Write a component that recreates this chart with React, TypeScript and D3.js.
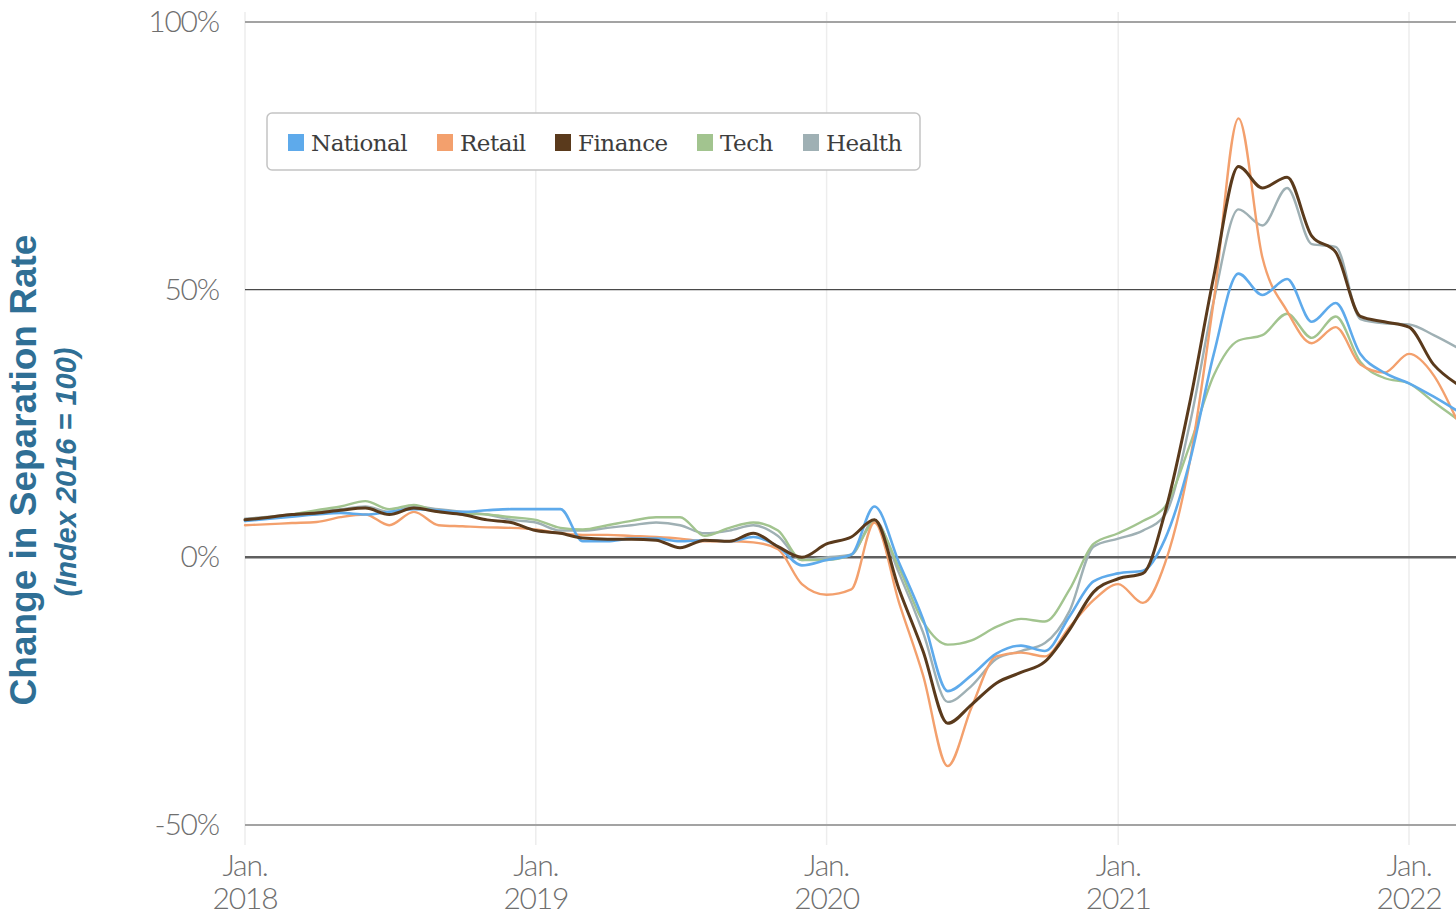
import React from "react";
import * as d3 from "d3";

// Monthly observations, Jan 2018 – Mar 2022 (percent change vs 2016 average)
const startMonth = new Date(2018, 0, 1);
const monthCount = 51;

const national = [
  6.8, 7.2, 7.6, 8.0, 8.3, 8.0, 8.5, 9.0, 8.8, 8.5, 8.8, 9.0,
  9.0, 9.0, 3.0, 3.0, 3.5, 3.5, 3.0, 3.2, 3.0, 3.8, 2.0, -1.5,
  -0.5, 0.5, 9.5, -1.0, -11.5, -25.0, -22.0, -18.0, -16.5, -17.5, -11.0, -4.5,
  -3.0, -2.5, 3.5, 18.0, 38.0, 53.0, 49.0, 52.0, 44.0, 47.5, 38.0, 34.5,
  32.5, 30.0, 27.5,
];
const retail = [
  6.0, 6.2, 6.4, 6.6, 7.5, 8.0, 6.0, 8.5, 6.0, 5.8, 5.6, 5.5,
  5.2, 4.5, 4.2, 4.2, 4.0, 3.8, 3.5, 3.0, 3.0, 2.8, 1.5, -5.0,
  -7.0, -6.0, 6.5, -8.5, -22.0, -39.0, -28.0, -18.5, -17.8, -18.5, -13.0, -8.0,
  -5.0, -8.5, -1.0, 18.0, 48.0, 82.0, 56.0, 46.0, 40.0, 43.0, 36.0, 34.5,
  38.0, 34.0, 26.0,
];
const finance = [
  7.0, 7.5, 8.0, 8.3, 8.8, 9.2, 8.0, 9.2, 8.5, 8.0, 7.0, 6.5,
  5.0, 4.5, 3.6, 3.4, 3.4, 3.2, 1.8, 3.2, 3.0, 4.5, 2.0, 0.0,
  2.5, 3.8, 7.0, -6.0, -17.5, -31.0, -27.5, -23.5, -21.5, -19.5, -13.5, -6.5,
  -4.0, -3.0, 8.5, 29.0, 52.5, 73.0, 69.0, 71.0, 60.0, 57.0, 45.0, 44.0,
  43.0, 36.0, 32.5,
];
const tech = [
  7.0, 7.5, 8.0, 8.8, 9.5, 10.5, 9.0, 9.8, 8.5, 8.2, 8.0, 7.5,
  7.0, 5.5, 5.2, 6.0, 6.8, 7.5, 7.5, 4.0, 5.5, 6.5, 5.0, -0.5,
  -0.5, 0.5, 6.5, -2.0, -12.0, -16.3, -15.5, -13.0, -11.5, -12.0, -6.0, 2.5,
  4.5, 6.8, 9.5, 21.0, 34.0, 40.5, 41.5, 45.5, 41.0, 45.0, 36.5, 33.5,
  32.5, 29.0, 26.0,
];
const health = [
  7.2, 7.6, 8.0, 8.5, 9.0, 9.5, 8.5, 9.5, 9.0, 8.5, 8.0, 7.0,
  6.5, 5.0, 5.0, 5.5, 6.0, 6.5, 6.0, 4.5, 5.0, 6.0, 4.0, -0.5,
  0.0, 0.5, 7.0, -3.0, -14.0, -27.0, -24.0, -19.0, -17.5, -16.0, -10.0, 2.0,
  3.5, 5.0, 8.0, 25.0, 48.0, 65.0, 62.0, 69.0, 58.5, 58.0, 44.5, 43.7,
  43.5, 41.5, 39.3,
];

const seriesNames = ["National", "Retail", "Finance", "Tech", "Health"];
const seriesColors = ["#5eaaeb", "#f3a06d", "#5a3a1c", "#a2c48f", "#9fb0b4"];
const seriesValues = [national, retail, finance, tech, health];

const yTicks = [100, 50, 0, -50];
const xTickYears = [2018, 2019, 2020, 2021, 2022];

const W = 1456;
const H = 916;

export default function App() {
  const months = d3.range(monthCount).map((i) => d3.timeMonth.offset(startMonth, i));

  const x = d3
    .scaleTime()
    .domain([new Date(2018, 0, 1), new Date(2022, 0, 1)])
    .range([245, 1409]);
  const y = d3.scaleLinear().domain([-50, 100]).range([825, 22]);

  const line = d3
    .line<number>()
    .x((_, i) => x(months[i]))
    .y((v) => y(v))
    .curve(d3.curveMonotoneX);

  // paint order: lighter series underneath, finance on top
  const drawOrder = [4, 3, 1, 0, 2];
  const widths = [2.6, 2.4, 3, 2.4, 2.4];

  const legendX = [288, 437, 555, 697, 803];

  const gridColor = (t: number) =>
    t === 0 ? "#5f5f5f" : t === 50 ? "#4a4a4a" : "#a3a3a3";
  const gridWidth = (t: number) => (t === 0 ? 2.5 : t === 50 ? 1.2 : 2);

  const tickFont = {
    fontFamily: "Lato, 'Open Sans', sans-serif",
    fontWeight: 300,
    fontSize: 30,
    letterSpacing: -1.2,
    fill: "#6f6f6f",
  } as const;

  return (
    <svg
      width={W}
      height={H}
      style={{ position: "absolute", left: 0, top: 0, background: "#fff" }}
    >
      {/* vertical year gridlines */}
      {xTickYears.map((yr) => {
        const xx = x(new Date(yr, 0, 1));
        return (
          <line
            key={"v" + yr}
            x1={xx}
            x2={xx}
            y1={12}
            y2={845}
            stroke="#ededed"
            strokeWidth={1.5}
          />
        );
      })}

      {/* horizontal gridlines and tick labels */}
      {yTicks.map((t) => (
        <g key={"h" + t}>
          <line
            x1={245}
            x2={W}
            y1={y(t)}
            y2={y(t)}
            stroke={gridColor(t)}
            strokeWidth={gridWidth(t)}
          />
          <text x={219} y={y(t) + 10} textAnchor="end" {...tickFont}>
            {t}%
          </text>
        </g>
      ))}

      {/* x tick labels */}
      {xTickYears.map((yr) => {
        const xx = x(new Date(yr, 0, 1));
        return (
          <text key={"xl" + yr} x={xx} textAnchor="middle" {...tickFont}>
            <tspan x={xx} y={876}>
              Jan.
            </tspan>
            <tspan x={xx} y={909}>
              {yr}
            </tspan>
          </text>
        );
      })}

      {/* series lines */}
      {drawOrder.map((i) => (
        <path
          key={seriesNames[i]}
          d={line(seriesValues[i]) || ""}
          fill="none"
          stroke={seriesColors[i]}
          strokeWidth={widths[i]}
          strokeLinejoin="round"
          strokeLinecap="round"
        />
      ))}

      {/* legend */}
      <rect
        x={267}
        y={113}
        width={653}
        height={57}
        rx={5}
        fill="#fff"
        stroke="#c4c4c4"
        strokeWidth={1.5}
      />
      {seriesNames.map((name, i) => (
        <g key={"lg" + name}>
          <rect x={legendX[i]} y={134} width={16} height={17} fill={seriesColors[i]} />
          <text
            x={legendX[i] + 23}
            y={151}
            fontFamily="'DejaVu Serif', serif"
            fontSize={23}
            letterSpacing={-0.5}
            fill="#3d3d3d"
          >
            {name}
          </text>
        </g>
      ))}

      {/* y axis title */}
      <text
        transform={`translate(36, 470) rotate(-90)`}
        textAnchor="middle"
        fontFamily="'Liberation Sans', Arial, sans-serif"
        fontWeight="bold"
        fontSize={37}
        fill="#2f6f95"
      >
        Change in Separation Rate
      </text>
      <text
        transform={`translate(76, 472) rotate(-90)`}
        textAnchor="middle"
        fontFamily="'Liberation Sans', Arial, sans-serif"
        fontWeight="bold"
        fontStyle="italic"
        fontSize={29}
        fill="#2f6f95"
      >
        (Index 2016 = 100)
      </text>
    </svg>
  );
}
